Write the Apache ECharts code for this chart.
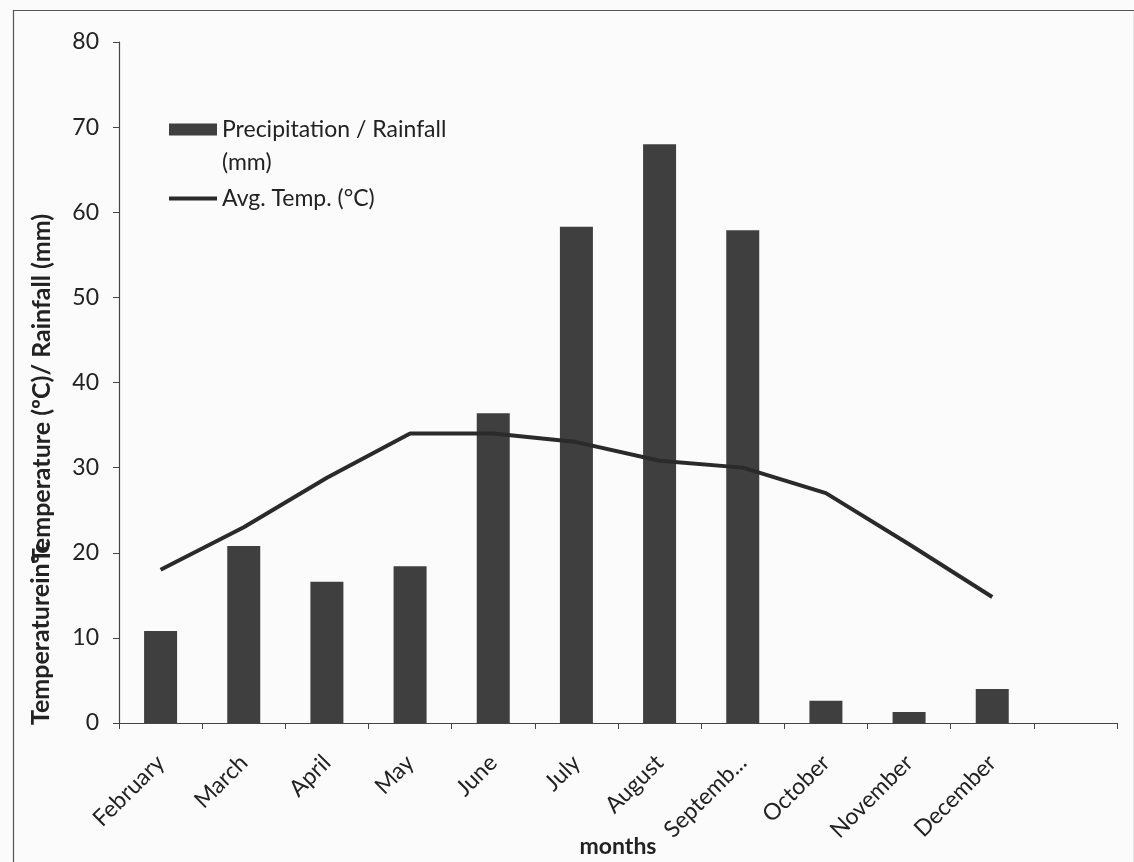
<!DOCTYPE html>
<html>
<head>
<meta charset="utf-8">
<script src="https://cdn.jsdelivr.net/npm/echarts@6/dist/echarts.min.js"></script>
<style>
html,body{margin:0;padding:0;background:#fcfbfb;}
#chart{width:1134px;height:862px;}
</style>
</head>
<body>
<div id="chart"></div>
<script>
// ---- data ----
const categories = ['February','March','April','May','June','July','August','Septemb...','October','November','December',''];
const rainfall = [10.8, 20.8, 16.6, 18.4, 36.4, 58.3, 68.0, 57.9, 2.6, 1.3, 4.0, null];
const avgTemp = [18, 23, 28.8, 34, 34, 33, 30.8, 30, 27, 21, 14.8, null];
const yTicks = {min: 0, max: 80, interval: 10};
const seriesNames = ['Precipitation / Rainfall\n(mm)', 'Avg. Temp. (°C)'];
const yTitle = 'Temperature (ºC)/ Rainfall (mm)';
const yTitleOverlap = 'Temperatureinºc';
const xTitle = 'months';

const FONT = 'Lato, "Open Sans", sans-serif';
const chart = echarts.init(document.getElementById('chart'), null, {renderer: 'canvas'});

chart.setOption({
  backgroundColor: '#fcfbfb',
  animation: false,
  grid: {left: 119, right: 17, top: 42, bottom: 139, containLabel: false, outerBoundsMode: 'none'},
  legend: {
    orient: 'vertical', left: 169, top: 80, padding: 0, itemGap: 3,
    itemWidth: 48, itemHeight: 12,
    textStyle: {fontFamily: FONT, fontSize: 23, color: '#222', lineHeight: 33},
    formatter: function (name) {
      return name === seriesNames[0] ? '\u00a0\n' + name : name;
    },
    data: [
      {name: seriesNames[0], icon: 'rect'},
      {name: seriesNames[1], icon: 'path://M0,0 L48,0 L48,4 L0,4 Z'}
    ]
  },
  xAxis: {
    type: 'category', data: categories, boundaryGap: true,
    name: xTitle, nameLocation: 'middle', nameGap: 112, nameMoveOverlap: false,
    nameTextStyle: {fontFamily: FONT, fontSize: 23, fontWeight: 'bold', color: '#222'},
    axisLine: {show: true, lineStyle: {color: '#444', width: 1.2}},
    axisTick: {show: true, interval: 0, length: 6, lineStyle: {color: '#444'}},
    axisLabel: {interval: 0, rotate: 45, margin: 36, fontFamily: FONT, fontSize: 23, color: '#222'},
    splitLine: {show: false}
  },
  yAxis: {
    type: 'value', min: yTicks.min, max: yTicks.max, interval: yTicks.interval,
    name: yTitle, nameLocation: 'middle', nameGap: 65, nameMoveOverlap: false,
    nameTextStyle: {fontFamily: FONT, fontSize: 25, fontWeight: 'bold', color: '#222', padding: [0, 12, 0, 0]},
    axisLine: {show: true, lineStyle: {color: '#444', width: 1.2}},
    axisTick: {show: true, length: 6, lineStyle: {color: '#444'}},
    axisLabel: {margin: 20, fontFamily: FONT, fontSize: 23, color: '#222'},
    splitLine: {show: false}
  },
  series: [
    {
      name: seriesNames[0], type: 'bar', data: rainfall, barWidth: 33,
      itemStyle: {color: '#3f3f3f'}
    },
    {
      name: seriesNames[1], type: 'line', data: avgTemp, symbol: 'none',
      lineStyle: {color: '#2a2a2a', width: 4}, itemStyle: {color: '#2a2a2a'}
    }
  ],
  graphic: [
    {type: 'rect', left: 11, top: 8, shape: {width: 1121, height: 852},
     style: {fill: 'none', stroke: '#555', lineWidth: 1.2}, silent: true},
    {type: 'text', x: 41, y: 725, rotation: Math.PI / 2,
     style: {text: yTitleOverlap, fontFamily: FONT, fontSize: 25, fontWeight: 'bold',
             fill: '#222', align: 'left', verticalAlign: 'middle'}, silent: true}
  ]
});
</script>
</body>
</html>
